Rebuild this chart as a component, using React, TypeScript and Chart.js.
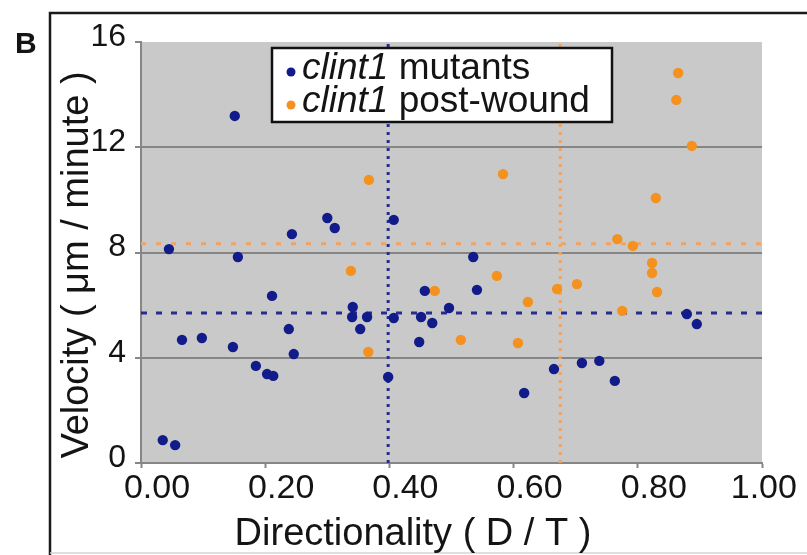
import React, { useEffect, useRef } from 'react';
import { Chart, registerables } from 'chart.js';

Chart.register(...registerables);

// ---- data ----
const geneName = 'clint1';
const seriesLabels = ['mutants', 'post-wound'];

const mutantsX = [0.035, 0.055, 0.066, 0.098, 0.045, 0.151, 0.156, 0.243, 0.300, 0.312, 0.407, 0.211, 0.341, 0.340, 0.364, 0.353, 0.238, 0.148, 0.246, 0.185, 0.203, 0.213, 0.398, 0.407, 0.457, 0.451, 0.469, 0.496, 0.448, 0.541, 0.535, 0.617, 0.665, 0.710, 0.738, 0.763, 0.879, 0.895];
const mutantsY = [0.87, 0.68, 4.68, 4.75, 8.13, 13.19, 7.83, 8.70, 9.31, 8.93, 9.24, 6.35, 5.93, 5.55, 5.55, 5.09, 5.09, 4.41, 4.14, 3.69, 3.38, 3.31, 3.27, 5.51, 6.54, 5.55, 5.32, 5.89, 4.60, 6.58, 7.83, 2.66, 3.57, 3.80, 3.88, 3.12, 5.66, 5.28];

const postWoundX = [0.367, 0.338, 0.366, 0.865, 0.862, 0.887, 0.583, 0.829, 0.767, 0.792, 0.823, 0.823, 0.573, 0.473, 0.670, 0.702, 0.831, 0.623, 0.775, 0.515, 0.607];
const postWoundY = [10.76, 7.30, 4.22, 14.82, 13.80, 12.05, 10.98, 10.07, 8.51, 8.25, 7.60, 7.22, 7.11, 6.54, 6.61, 6.80, 6.50, 6.12, 5.78, 4.68, 4.56];

const mutantsMeanX = 0.398;
const mutantsMeanY = 5.70;
const postWoundMeanX = 0.675;
const postWoundMeanY = 8.33;

const xTickLabels = ['0.00', '0.20', '0.40', '0.60', '0.80', '1.00'];
const yTickLabels = ['0', '4', '8', '12', '16'];
const xTitle = 'Directionality ( D / T )';
const yTitle = 'Velocity ( \u03bcm / minute )';
const panelLabel = 'B';

// ---- styles ----
const FONT = '"Liberation Sans", Arial, Helvetica, sans-serif';
const BLUE = '#111c8a';
const ORANGE = '#f5911f';
const BLUE_LINE = '#272c8f';
const ORANGE_LINE = '#f2a360';
const GRID = '#868686';
const PLOT_BG = '#c9c9c9';
const TEXT = '#141414';

const decorPlugin = {
  id: 'decor',
  beforeDraw(chart: any) {
    const { ctx, chartArea: a, width, height } = chart;
    ctx.save();
    ctx.fillStyle = '#ffffff';
    ctx.fillRect(0, 0, width, height);
    ctx.fillStyle = PLOT_BG;
    ctx.fillRect(a.left, a.top, a.right - a.left, a.bottom - a.top);
    // outer frame
    ctx.strokeStyle = '#1a1a1a';
    ctx.lineWidth = 2.5;
    ctx.beginPath();
    ctx.moveTo(50, height);
    ctx.lineTo(50, 13);
    ctx.lineTo(width, 13);
    ctx.stroke();
    ctx.strokeStyle = '#d4d4d4';
    ctx.lineWidth = 1.5;
    ctx.beginPath();
    ctx.moveTo(50, height - 2);
    ctx.lineTo(width, height - 2);
    ctx.stroke();
    ctx.restore();
  },
  afterDraw(chart: any) {
    const { ctx, chartArea: a } = chart;
    ctx.save();
    // panel label
    ctx.fillStyle = TEXT;
    ctx.font = `bold 30px ${FONT}`;
    ctx.textAlign = 'left';
    ctx.textBaseline = 'alphabetic';
    ctx.fillText(panelLabel, 15, 53);

    // axis titles
    ctx.font = `38px ${FONT}`;
    ctx.textAlign = 'center';
    ctx.fillText(xTitle, a.left + 272, a.bottom + 82);
    ctx.save();
    ctx.translate(a.left - 53, a.top + 223);
    ctx.rotate(-Math.PI / 2);
    ctx.fillText(yTitle, 0, 0);
    ctx.restore();

    // legend
    const lx = a.left + 131;
    const ly = a.top + 6;
    const lw = 340;
    const lh = 74;
    ctx.fillStyle = '#ffffff';
    ctx.fillRect(lx, ly, lw, lh);
    ctx.strokeStyle = '#111111';
    ctx.lineWidth = 2.5;
    ctx.strokeRect(lx, ly, lw, lh);
    const colors = [chart.data.datasets[0].backgroundColor, chart.data.datasets[1].backgroundColor];
    seriesLabels.forEach((label, i) => {
      const base = ly + 31 + i * 33;
      ctx.fillStyle = colors[i];
      ctx.beginPath();
      ctx.arc(lx + 19, base - 7, 4.5, 0, Math.PI * 2);
      ctx.fill();
      ctx.fillStyle = TEXT;
      ctx.textAlign = 'left';
      ctx.font = `italic 37px ${FONT}`;
      ctx.fillText(geneName, lx + 30, base);
      const w = ctx.measureText(geneName).width;
      ctx.font = `37px ${FONT}`;
      ctx.fillText(' ' + label, lx + 30 + w, base);
    });
    ctx.restore();
  },
};

export default function App() {
  const canvasRef = useRef<HTMLCanvasElement | null>(null);

  useEffect(() => {
    document.body.style.margin = '0';
    const canvas = canvasRef.current;
    if (!canvas) return;
    const pts = (xs: number[], ys: number[]) => xs.map((x, i) => ({ x, y: ys[i] }));
    const chart = new Chart(canvas, {
      type: 'scatter',
      data: {
        datasets: [
          {
            label: `${geneName} ${seriesLabels[0]}`,
            data: pts(mutantsX, mutantsY),
            backgroundColor: BLUE,
            borderColor: BLUE,
            pointRadius: 5.2,
            pointBorderWidth: 0,
            order: 0,
          },
          {
            label: `${geneName} ${seriesLabels[1]}`,
            data: pts(postWoundX, postWoundY),
            backgroundColor: ORANGE,
            borderColor: ORANGE,
            pointRadius: 5.2,
            pointBorderWidth: 0,
            order: 0,
          },
          {
            label: 'mutants mean velocity',
            data: [{ x: 0, y: mutantsMeanY }, { x: 1, y: mutantsMeanY }],
            showLine: true,
            borderColor: BLUE_LINE,
            borderWidth: 3,
            borderDash: [6, 9],
            pointRadius: 0,
            order: 2,
          },
          {
            label: 'mutants mean directionality',
            data: [{ x: mutantsMeanX, y: 0 }, { x: mutantsMeanX, y: 16 }],
            showLine: true,
            borderColor: BLUE_LINE,
            borderWidth: 3,
            borderDash: [3, 5],
            pointRadius: 0,
            order: 2,
          },
          {
            label: 'post-wound mean velocity',
            data: [{ x: 0, y: postWoundMeanY }, { x: 1, y: postWoundMeanY }],
            showLine: true,
            borderColor: ORANGE_LINE,
            borderWidth: 3,
            borderDash: [5, 10],
            pointRadius: 0,
            order: 2,
          },
          {
            label: 'post-wound mean directionality',
            data: [{ x: postWoundMeanX, y: 0 }, { x: postWoundMeanX, y: 16 }],
            showLine: true,
            borderColor: ORANGE_LINE,
            borderWidth: 3,
            borderDash: [3, 5],
            pointRadius: 0,
            order: 2,
          },
        ],
      },
      options: {
        animation: false,
        responsive: false,
        devicePixelRatio: 1,
        events: [],
        layout: { padding: { left: 0, top: 42, right: 45, bottom: 0 } },
        plugins: {
          legend: { display: false },
          tooltip: { enabled: false },
          title: { display: false },
        },
        scales: {
          x: {
            type: 'linear',
            min: 0,
            max: 1,
            ticks: {
              stepSize: 0.2,
              autoSkip: false,
              maxRotation: 0,
              minRotation: 0,
              padding: 0,
              labelOffset: 16,
              color: TEXT,
              font: { family: FONT, size: 34 },
              callback: (_v: any, i: number) =>
                i === xTickLabels.length - 1 ? xTickLabels[i] + '   ' : xTickLabels[i],
            },
            grid: {
              drawOnChartArea: false,
              drawTicks: true,
              tickLength: 5,
              tickColor: GRID,
              tickWidth: 2,
            },
            border: { display: true, color: GRID, width: 2 },
            afterFit: (s: any) => {
              s.height = 92;
              s.paddingLeft = 0;
              s.paddingRight = 0;
              s.paddingTop = 0;
              s.paddingBottom = 0;
            },
          },
          y: {
            type: 'linear',
            min: 0,
            max: 16,
            ticks: {
              stepSize: 4,
              padding: 9,
              labelOffset: -5,
              color: TEXT,
              font: { family: FONT, size: 32 },
              callback: (_v: any, i: number) => yTickLabels[i],
            },
            grid: {
              color: (c: any) => (c.tick && c.tick.value === 16 ? 'rgba(0,0,0,0)' : GRID),
              lineWidth: 2,
              drawTicks: true,
              tickLength: 6,
              tickColor: GRID,
              tickWidth: 2,
            },
            border: { display: true, color: GRID, width: 2 },
            afterFit: (s: any) => {
              s.width = 141;
              s.paddingLeft = 0;
              s.paddingRight = 0;
              s.paddingTop = 0;
              s.paddingBottom = 0;
            },
          },
        },
      } as any,
      plugins: [decorPlugin],
    });
    return () => chart.destroy();
  }, []);

  return (
    <div style={{ width: 807, height: 555, position: 'relative' }}>
      <canvas
        ref={canvasRef}
        width={807}
        height={555}
        style={{ display: 'block', width: 807, height: 555 }}
      />
    </div>
  );
}
